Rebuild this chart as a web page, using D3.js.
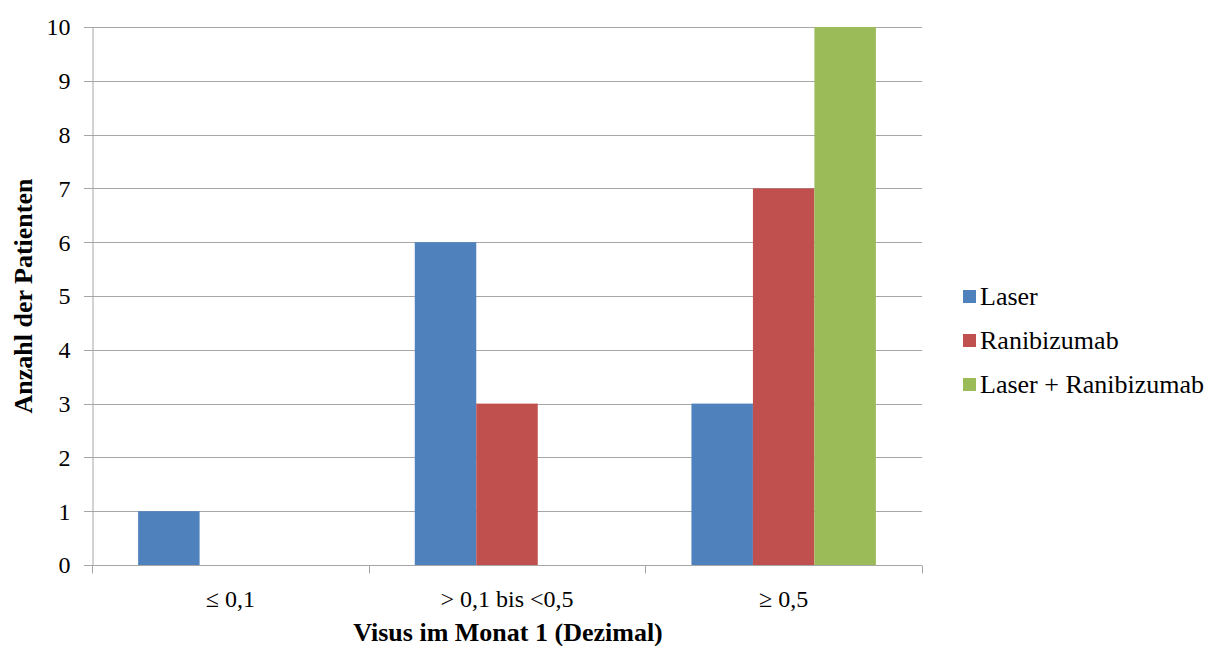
<!DOCTYPE html>
<html>
<head>
<meta charset="utf-8">
<script src="https://cdn.jsdelivr.net/npm/d3@7"></script>
<style>
  html, body { margin: 0; padding: 0; background: #fff; }
  svg { display: block; }
  svg text { font-family: "Liberation Serif", "DejaVu Serif", serif; fill: #000; }
</style>
</head>
<body>
<svg id="chart" width="1221" height="646"></svg>
<script>
const categories = ["\u2264 0,1", "> 0,1 bis <0,5", "\u2265 0,5"];
const seriesNames = ["Laser", "Ranibizumab", "Laser + Ranibizumab"];
const laserValues = [1, 6, 3];
const ranibizumabValues = [0, 3, 7];
const comboValues = [0, 0, 10];
const yTicks = [0, 1, 2, 3, 4, 5, 6, 7, 8, 9, 10];
const colors = ["#4f81bd", "#c0504d", "#9bbb59"];

const seriesValues = [laserValues, ranibizumabValues, comboValues];
const data = categories.map((c, i) => ({
  cat: c,
  vals: seriesNames.map((s, j) => ({ series: s, value: seriesValues[j][i], color: colors[j] }))
}));

const FONT = "Liberation Serif, DejaVu Serif, serif";
const svg = d3.select("#chart");
const m = { left: 92, right: 299, top: 27, bottom: 81 };
const W = 1221, H = 646;
const x0 = d3.scaleBand().domain(categories).range([m.left, W - m.right]).padding(0);
const x1 = d3.scaleBand().domain(seriesNames).range([0, x0.bandwidth()]).paddingInner(0).paddingOuter(0.75);
const y = d3.scaleLinear().domain([0, 10]).range([H - m.bottom, m.top]);

const gridColor = "#a6a6a6";

// gridlines
svg.append("g")
  .selectAll("line").data(yTicks).join("line")
  .attr("x1", m.left - 8).attr("x2", W - m.right)
  .attr("y1", d => Math.round(y(d)) + 0.5).attr("y2", d => Math.round(y(d)) + 0.5)
  .attr("stroke", gridColor).attr("stroke-width", 1);

// bars
svg.append("g").selectAll("g").data(data).join("g")
  .attr("transform", d => `translate(${x0(d.cat)},0)`)
  .selectAll("rect").data(d => d.vals.filter(v => v.value > 0)).join("rect")
  .attr("x", d => x1(d.series))
  .attr("width", x1.bandwidth())
  .attr("y", d => y(d.value))
  .attr("height", d => y(0) - y(d.value))
  .attr("fill", d => d.color);

// y axis
const yAxis = svg.append("g").attr("transform", `translate(${m.left + 0.5},0)`)
  .call(d3.axisLeft(y).tickValues(yTicks).tickSize(0).tickPadding(22));
yAxis.attr("font-family", FONT);
yAxis.select(".domain").attr("stroke", gridColor);
yAxis.selectAll("text").attr("font-size", 24).attr("font-family", FONT).attr("fill", "#000").attr("dy", "0.33em");

// x axis
const xAxisG = svg.append("g").attr("transform", `translate(0,${Math.round(y(0)) + 0.5})`);
xAxisG.append("line").attr("x1", m.left).attr("x2", W - m.right).attr("stroke", gridColor);
const xTickPos = [m.left, ...categories.map(c => x0(c) + x0.bandwidth())];
xAxisG.selectAll("line.tk").data(xTickPos).join("line").attr("class", "tk")
  .attr("x1", d => Math.round(d) + 0.5).attr("x2", d => Math.round(d) + 0.5)
  .attr("y1", 0).attr("y2", 8).attr("stroke", gridColor);
xAxisG.selectAll("text").data(categories).join("text")
  .attr("x", d => x0(d) + x0.bandwidth() / 2)
  .attr("y", 41)
  .attr("text-anchor", "middle")
  .attr("font-size", 24).attr("font-family", FONT).attr("fill", "#000")
  .text(d => d);

// axis titles
svg.append("text")
  .attr("x", (m.left + W - m.right) / 2 + 1).attr("y", 641)
  .attr("text-anchor", "middle").attr("font-size", 26).attr("font-weight", "bold").attr("font-family", FONT)
  .text("Visus im Monat 1 (Dezimal)");
svg.append("text")
  .attr("transform", `translate(32,${(m.top + H - m.bottom) / 2}) rotate(-90)`)
  .attr("text-anchor", "middle").attr("font-size", 26).attr("font-weight", "bold").attr("font-family", FONT)
  .text("Anzahl der Patienten");

// legend
const legend = svg.append("g").attr("transform", "translate(963,296)");
const li = legend.selectAll("g").data(seriesNames).join("g")
  .attr("transform", (d, i) => `translate(0,${i * 44})`);
li.append("rect").attr("x", 0).attr("y", -6).attr("width", 13).attr("height", 13)
  .attr("fill", (d, i) => colors[i]);
li.append("text").attr("x", 17).attr("y", 9).attr("font-size", 26).attr("font-family", FONT).attr("fill", "#000").text(d => d);
</script>
</body>
</html>
